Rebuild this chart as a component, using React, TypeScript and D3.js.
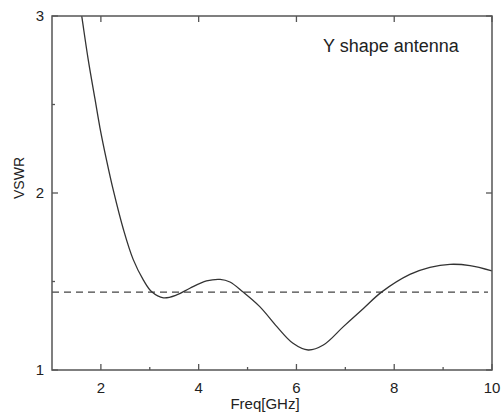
import React from "react";
import * as d3 from "d3";

const freq = [1.5, 1.61, 1.74, 1.88, 1.98, 2.12, 2.25, 2.46, 2.66, 2.87, 3.04, 3.28, 3.55, 3.82, 4.16, 4.44, 4.64, 4.91, 5.25, 5.6, 5.93, 6.24, 6.55, 6.96, 7.37, 7.74, 8.32, 8.73, 9.14, 9.55, 10.0];
const vswr = [3.2, 2.996, 2.755, 2.53, 2.37, 2.18, 2.02, 1.795, 1.625, 1.508, 1.442, 1.408, 1.424, 1.462, 1.503, 1.512, 1.497, 1.44, 1.358, 1.245, 1.151, 1.113, 1.141, 1.245, 1.348, 1.44, 1.54, 1.58, 1.597, 1.59, 1.56];
const threshold = 1.44;
const xMajorTicks = [2, 4, 6, 8, 10];
const xMinorTicks = [3, 5, 7, 9];
const yMajorTicks = [1, 2, 3];
const yMinorTicks = [1.5, 2.5];
const title = "Y shape antenna";
const xLabel = "Freq[GHz]";
const yLabel = "VSWR";

const W = 503, H = 416;
const L = 52, T = 16, R = 492, B = 370;

export default function App() {
  const x = d3.scaleLinear().domain([1, 10]).range([L, R]);
  const y = d3.scaleLinear().domain([1, 3]).range([B, T]);
  const pts = freq.map((f, i) => [f, vswr[i]] as [number, number]);
  const line = d3.line<[number, number]>().x(d => x(d[0])).y(d => y(d[1])).curve(d3.curveCatmullRom.alpha(0.5));
  const axisColor = "#555";
  const font = "Liberation Sans, Arial, sans-serif";
  return (
    <svg width={W} height={H} style={{ position: "absolute", left: 0, top: 0, background: "#fff" }} fontFamily={font}>
      <defs>
        <clipPath id="plot"><rect x={L} y={T} width={R - L} height={B - T} /></clipPath>
      </defs>
      <line x1={L} x2={R - 4} y1={y(threshold)} y2={y(threshold)} stroke="#444" strokeWidth={1.3} strokeDasharray="7,5" />
      <path d={line(pts) || ""} fill="none" stroke="#333" strokeWidth={1.3} clipPath="url(#plot)" />
      <rect x={L} y={T} width={R - L} height={B - T} fill="none" stroke={axisColor} strokeWidth={1.5} />
      {xMajorTicks.map(t => (
        <g key={"xm" + t}>
          <line x1={x(t)} x2={x(t)} y1={B} y2={B - 6} stroke={axisColor} strokeWidth={1.3} />
          <line x1={x(t)} x2={x(t)} y1={T} y2={T + 6} stroke={axisColor} strokeWidth={1.3} />
          <text x={x(t)} y={393} textAnchor="middle" fontSize={15} fill="#222">{t}</text>
        </g>
      ))}
      {xMinorTicks.map(t => (
        <line key={"xn" + t} x1={x(t)} x2={x(t)} y1={B} y2={B - 3} stroke={axisColor} strokeWidth={1.3} />
      ))}
      {yMajorTicks.map(t => (
        <g key={"ym" + t}>
          <line x1={L} x2={L + 6} y1={y(t)} y2={y(t)} stroke={axisColor} strokeWidth={1.3} />
          <line x1={R} x2={R - 6} y1={y(t)} y2={y(t)} stroke={axisColor} strokeWidth={1.3} />
          <text x={L - 8} y={y(t)} dy="0.36em" textAnchor="end" fontSize={15} fill="#222">{t}</text>
        </g>
      ))}
      {yMinorTicks.map(t => (
        <line key={"yn" + t} x1={L} x2={L + 3} y1={y(t)} y2={y(t)} stroke={axisColor} strokeWidth={1.3} />
      ))}
      <text x={323} y={51.5} fontSize={18} fill="#222">{title}</text>
      <text x={265} y={409} textAnchor="middle" fontSize={15} fill="#222">{xLabel}</text>
      <text transform={`translate(24,178) rotate(-90)`} textAnchor="middle" fontSize={14} fill="#222">{yLabel}</text>
    </svg>
  );
}
